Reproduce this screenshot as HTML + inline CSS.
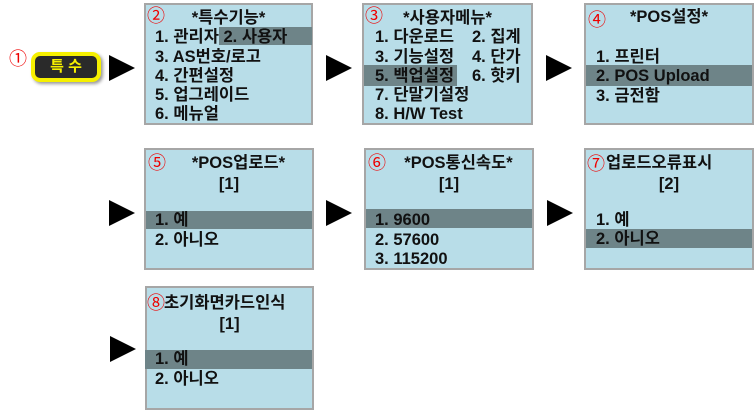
<!DOCTYPE html>
<html><head><meta charset="utf-8"><style>
body{margin:0;width:754px;height:408px;background:#fff;position:relative;overflow:hidden;font-family:"Liberation Sans","Noto Sans CJK KR","NanumGothic",sans-serif;}
.b{position:absolute;background:#b8dde8;border:2px solid #a6a6a6;box-sizing:border-box;}
.h{position:absolute;background:#6e8488;}
.t{position:absolute;font-size:16.5px;font-weight:bold;color:#111;line-height:20px;white-space:nowrap;}
.c{text-align:center;}
.n{position:absolute;color:#e00;font-size:18px;line-height:18px;}
.a{position:absolute;width:0;height:0;border-top:13px solid transparent;border-bottom:13px solid transparent;border-left:26px solid #000;}
</style></head><body>
<!-- button -->
<div class="n" style="left:9px;top:50px">①</div>
<div style="position:absolute;left:31px;top:52px;width:70px;height:30px;box-sizing:border-box;border:4px solid #f6f000;border-radius:9px;background:#2a2a2a;box-shadow:2px 2px 3px #999;color:#f6f000;font-weight:bold;font-size:15px;line-height:22px;text-align:center;">특 수</div>

<!-- arrows -->
<div class="a" style="left:109px;top:55px"></div>
<div class="a" style="left:326px;top:55px"></div>
<div class="a" style="left:546px;top:55px"></div>
<div class="a" style="left:109px;top:200px"></div>
<div class="a" style="left:326px;top:200px"></div>
<div class="a" style="left:547px;top:200px"></div>
<div class="a" style="left:110px;top:336px"></div>

<!-- box2 -->
<div class="b" style="left:144px;top:3px;width:169px;height:122px"></div>
<div class="h" style="left:219px;top:27px;width:93px;height:18px"></div>
<div class="n" style="left:147px;top:7px">②</div>
<div class="t c" style="left:144px;top:8px;width:169px">*특수기능*</div>
<div class="t" style="left:155px;top:27px">1. 관리자 2. 사용자</div>
<div class="t" style="left:155px;top:47px">3. AS번호/로고</div>
<div class="t" style="left:155px;top:66px">4. 간편설정</div>
<div class="t" style="left:155px;top:85px">5. 업그레이드</div>
<div class="t" style="left:155px;top:104px">6. 메뉴얼</div>

<!-- box3 -->
<div class="b" style="left:362px;top:3px;width:171px;height:122px"></div>
<div class="h" style="left:364px;top:65px;width:93px;height:21px"></div>
<div class="n" style="left:365px;top:7px">③</div>
<div class="t c" style="left:362px;top:8px;width:171px">*사용자메뉴*</div>
<div class="t" style="left:375px;top:27px">1. 다운로드</div><div class="t" style="left:472px;top:27px">2. 집계</div>
<div class="t" style="left:375px;top:47px">3. 기능설정</div><div class="t" style="left:472px;top:47px">4. 단가</div>
<div class="t" style="left:375px;top:66px">5. 백업설정</div><div class="t" style="left:472px;top:66px">6. 핫키</div>
<div class="t" style="left:375px;top:85px">7. 단말기설정</div>
<div class="t" style="left:375px;top:104px">8. H/W Test</div>

<!-- box4 -->
<div class="b" style="left:584px;top:3px;width:170px;height:122px"></div>
<div class="h" style="left:586px;top:65px;width:166px;height:21px"></div>
<div class="n" style="left:588px;top:11px">④</div>
<div class="t c" style="left:584px;top:7px;width:170px">*POS설정*</div>
<div class="t" style="left:596px;top:47px">1. 프린터</div>
<div class="t" style="left:596px;top:66px">2. POS Upload</div>
<div class="t" style="left:596px;top:86px">3. 금전함</div>

<!-- box5 -->
<div class="b" style="left:144px;top:148px;width:170px;height:122px"></div>
<div class="h" style="left:146px;top:211px;width:166px;height:18px"></div>
<div class="n" style="left:148px;top:154px">⑤</div>
<div class="t c" style="left:154px;top:153px;width:169px">*POS업로드*</div>
<div class="t c" style="left:144px;top:174px;width:170px">[1]</div>
<div class="t" style="left:155px;top:210px">1. 예</div>
<div class="t" style="left:155px;top:230px">2. 아니오</div>

<!-- box6 -->
<div class="b" style="left:364px;top:148px;width:170px;height:122px"></div>
<div class="h" style="left:366px;top:209px;width:166px;height:19px"></div>
<div class="n" style="left:368px;top:154px">⑥</div>
<div class="t c" style="left:374px;top:153px;width:169px">*POS통신속도*</div>
<div class="t c" style="left:364px;top:174px;width:170px">[1]</div>
<div class="t" style="left:375px;top:210px">1. 9600</div>
<div class="t" style="left:375px;top:230px">2. 57600</div>
<div class="t" style="left:375px;top:249px">3. 115200</div>

<!-- box7 -->
<div class="b" style="left:584px;top:148px;width:170px;height:122px"></div>
<div class="h" style="left:586px;top:229px;width:166px;height:19px"></div>
<div class="n" style="left:587px;top:155px">⑦</div>
<div class="t" style="left:606px;top:153px">업로드오류표시</div>
<div class="t c" style="left:584px;top:174px;width:170px">[2]</div>
<div class="t" style="left:596px;top:210px">1. 예</div>
<div class="t" style="left:596px;top:229px">2. 아니오</div>

<!-- box8 -->
<div class="b" style="left:145px;top:286px;width:169px;height:124px"></div>
<div class="h" style="left:145px;top:350px;width:167px;height:19px"></div>
<div class="n" style="left:147px;top:294px">⑧</div>
<div class="t" style="left:164px;top:293px">초기화면카드인식</div>
<div class="t c" style="left:145px;top:314px;width:169px">[1]</div>
<div class="t" style="left:155px;top:349px">1. 예</div>
<div class="t" style="left:155px;top:369px">2. 아니오</div>
</body></html>
